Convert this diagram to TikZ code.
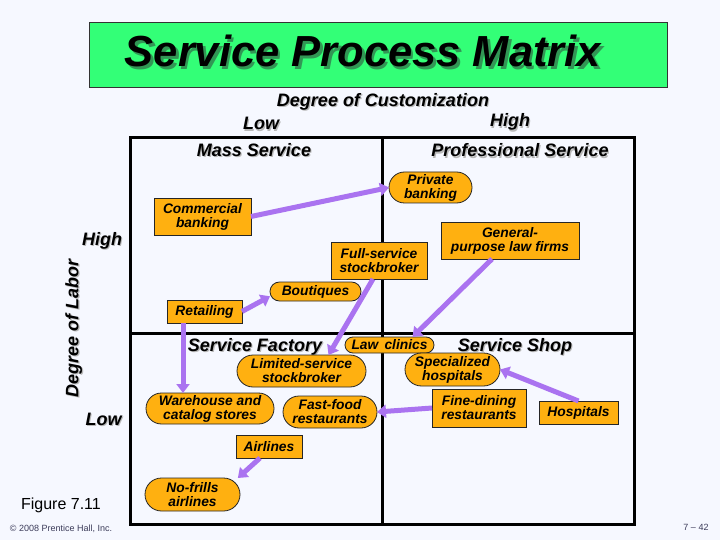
\documentclass[tikz,border=0pt]{standalone}
\usepackage{fontspec}
\setmainfont{Liberation Sans}
\usetikzlibrary{arrows.meta,calc}
\definecolor{bg}{RGB}{246,248,255}
\definecolor{titlegreen}{RGB}{51,255,119}
\definecolor{titleshade}{RGB}{50,150,85}
\definecolor{nodeor}{RGB}{255,176,16}
\definecolor{arrpurple}{RGB}{170,115,240}
\definecolor{slate}{RGB}{60,60,90}
\newcommand\shadowtxt[4]{\leavevmode\rlap{\hspace*{#1}\raisebox{#2}{\textcolor{#3}{#4}}}#4}
\begin{document}
\begin{tikzpicture}[x=1pt,y=-1pt,
  every node/.style={inner sep=0pt, outer sep=0pt},
  lbl/.style={font=\fontsize{18}{20}\selectfont\bfseries\itshape, anchor=base},
  nbox/.style={draw=black!85, line width=0.8pt, fill=nodeor, align=center,
    font=\fontsize{13.8}{14}\selectfont\bfseries\itshape},
  stad/.style={nbox, rounded corners=#1},
  conn/.style={draw=arrpurple, line width=5pt, -{Triangle[length=9pt,width=13pt]}},
  matrixline/.style={line width=3pt, draw=black},
]
% background / bounding box
\fill[bg] (0,0) rectangle (720,540);
\useasboundingbox (0,0) rectangle (720,540);

% title
\node[draw=black!80, line width=0.8pt, fill=titlegreen, minimum width=578pt, minimum height=65pt] (titlebox) at (378,54.5) {};
\node[font=\fontsize{43.5}{46}\selectfont\bfseries\itshape, anchor=base] (title) at (363,66.7) {\shadowtxt{2.5pt}{-2.5pt}{titleshade}{Service Process Matrix}};

% axis labels
\node[lbl] (cust) at (383,106.5) {\shadowtxt{1.2pt}{-1.2pt}{black!28}{Degree of Customization}};
\node[lbl] (lowt) at (261,130) {\shadowtxt{1.2pt}{-1.2pt}{black!28}{Low}};
\node[lbl] (hight) at (510,127) {\shadowtxt{1.2pt}{-1.2pt}{black!28}{High}};
\node[lbl] (mass) at (254,156.7) {\shadowtxt{1.2pt}{-1.2pt}{black!28}{Mass Service}};
\node[lbl] (prof) at (520,157) {\shadowtxt{1.2pt}{-1.2pt}{black!28}{Professional Service}};
\node[lbl] (highl) at (102,245) {\shadowtxt{1.2pt}{-1.2pt}{black!28}{High}};
\node[lbl] (lowl) at (103.5,425) {\shadowtxt{1.2pt}{-1.2pt}{black!28}{Low}};
\node[lbl, rotate=90] (labor) at (78.3,328) {\shadowtxt{-1.2pt}{-1.2pt}{black!28}{Degree of Labor}};

% matrix
\draw[matrixline] (130,138) rectangle (634,524);
\draw[matrixline] (382,138) -- (382,524);
\draw[matrixline] (130,333) -- (634,333);

% quadrant labels
\node[lbl] (sf) at (255,351) {\shadowtxt{1.2pt}{-1.2pt}{black!28}{Service Factory}};
\node[lbl] (ss) at (515,351) {\shadowtxt{1.2pt}{-1.2pt}{black!28}{Service Shop}};

% nodes
\node[stad=15.5pt, minimum width=83pt, minimum height=31pt] (priv) at (430.5,187.5) {Private\\banking};
\node[nbox, minimum width=97pt, minimum height=37pt] (comm) at (202.5,216.5) {Commercial\\banking};
\node[nbox, minimum width=96pt, minimum height=37pt] (full) at (379,260.5) {Full-service\\stockbroker};
\node[stad=9.5pt, minimum width=91pt, minimum height=19pt] (bout) at (315.5,291.5) {Boutiques};
\node[nbox, minimum width=75pt, minimum height=23pt] (retail) at (204.5,311.5) {Retailing};
\node[nbox, minimum width=138pt, minimum height=37pt] (gen) at (510,240.5) {General-\\purpose law firms};
\node[stad=8pt, minimum width=89pt, minimum height=16pt] (law) at (389.5,345) {Law\hspace{0.45em}clinics};
\node[stad=16pt, minimum width=129pt, minimum height=32pt] (lim) at (301.5,371) {Limited-service\\stockbroker};
\node[stad=15.5pt, minimum width=128pt, minimum height=31pt] (wh) at (210,408.5) {Warehouse and\\catalog stores};
\node[stad=16pt, minimum width=94pt, minimum height=32pt] (fast) at (330,412) {Fast-food\\restaurants};
\node[nbox, minimum width=66pt, minimum height=23pt] (air) at (269,446.5) {Airlines};
\node[stad=16.5pt, minimum width=95pt, minimum height=33pt] (spec) at (452.5,369.5) {Specialized\\hospitals};
\node[nbox, minimum width=94pt, minimum height=38pt] (fine) at (479,408) {Fine-dining\\restaurants};
\node[nbox, minimum width=79pt, minimum height=23pt] (hosp) at (578.5,412.5) {Hospitals};
\node[stad=16.5pt, minimum width=95pt, minimum height=33pt] (nofr) at (192.5,494.5) {No-frills\\airlines};

% connectors
\coordinate (r1) at ($(retail.south west)+(16,0)$);
\draw[conn] (comm.east) -- (priv.west);
\draw[conn] (retail.east) -- (bout.186);
\draw[conn] (r1) -- (r1 |- wh.north);
\draw[conn] ($(full.south)+(-6,0)$) -- ($(lim.north)+(27,0)$);
\draw[conn] ($(gen.south)+(-18,0)$) -- ($(law.north)+(23,0)$);
\draw[conn] (fine.west) -- (fast.east);
\draw[conn] (hosp.north) -- (spec.east);
\draw[conn] ($(air.south)+(-9,0)$) -- (nofr.20);

% footer
\node[font=\fontsize{16}{18}\selectfont, anchor=base] (fig) at (61,509) {Figure 7.11};
\node[font=\fontsize{9}{10}\selectfont, anchor=base, text=slate] (copy) at (61,531.5) {© 2008 Prentice Hall, Inc.};
\node[font=\fontsize{9}{10}\selectfont, anchor=base, text=slate] (page) at (696,530.7) {7 – 42};
\end{tikzpicture}
\end{document}
